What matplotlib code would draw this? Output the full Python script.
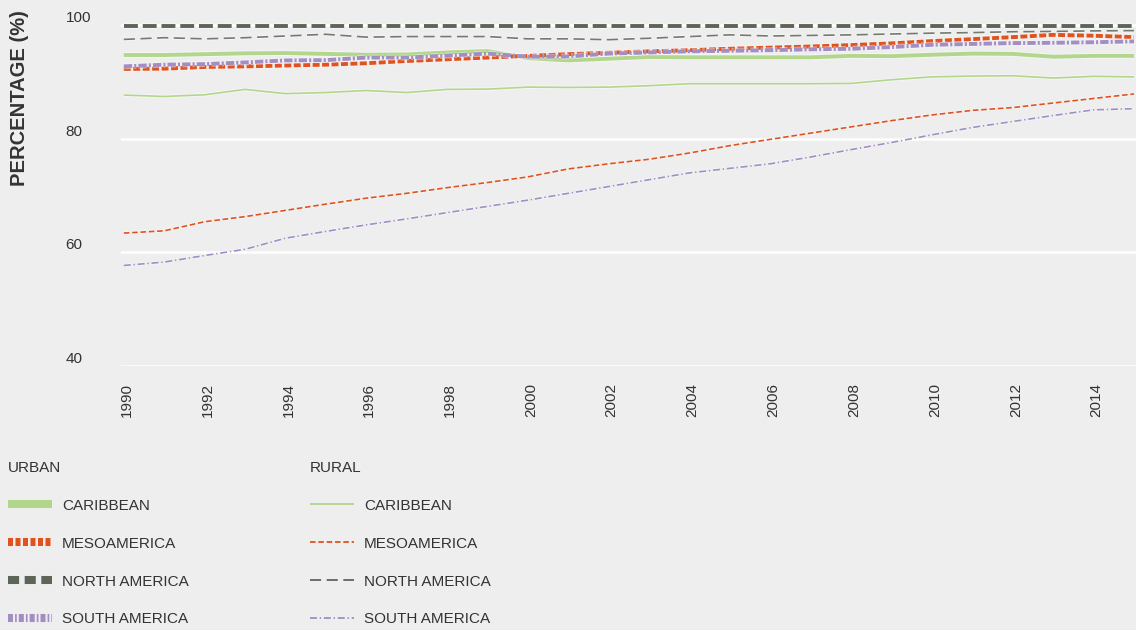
import matplotlib
matplotlib.use("Agg")
import matplotlib.pyplot as plt
import matplotlib.patheffects as pe
import matplotlib.transforms as mtransforms
from matplotlib.lines import Line2D

plt.rcParams['font.family'] = ['Liberation Sans', 'DejaVu Sans']
plt.rcParams['lines.scale_dashes'] = False

# Data (percentage, 1990-2015)
years = list(range(1990, 2016))

urban_caribbean = [94.75, 94.75, 94.9, 95.05, 95.1, 94.95, 94.8, 94.85, 95.2, 95.45,
                   94.2, 93.8, 94.1, 94.4, 94.35, 94.35, 94.35, 94.35, 94.6, 94.55,
                   94.8, 95.0, 94.95, 94.45, 94.6, 94.6]
urban_meso = [92.3, 92.35, 92.65, 92.75, 92.9, 93.05, 93.3, 93.7, 94.0, 94.3,
              94.6, 94.9, 95.15, 95.4, 95.6, 95.85, 96.05, 96.25, 96.5, 96.8,
              97.2, 97.55, 97.9, 98.3, 98.15, 97.9]
urban_north = [99.9, 99.9, 99.9, 99.9, 99.9, 99.9, 99.9, 99.9, 99.9, 99.9,
               99.9, 99.9, 99.9, 99.9, 99.9, 99.9, 99.9, 99.9, 99.9, 99.9,
               99.9, 99.9, 99.9, 99.9, 99.9, 99.9]
urban_south = [92.75, 93.05, 93.15, 93.45, 93.8, 93.85, 94.3, 94.3, 94.65, 95.0,
               94.45, 94.5, 95.0, 95.2, 95.4, 95.5, 95.6, 95.75, 95.85, 96.15,
               96.55, 96.7, 96.85, 96.9, 97.0, 97.15]

rural_caribbean = [87.7, 87.45, 87.75, 88.7, 87.95, 88.15, 88.5, 88.15, 88.7, 88.75,
                   89.1, 89.05, 89.1, 89.35, 89.7, 89.7, 89.7, 89.7, 89.75, 90.4,
                   90.9, 91.05, 91.1, 90.7, 91.0, 90.9]
rural_meso = [63.4, 63.8, 65.4, 66.3, 67.4, 68.5, 69.55, 70.4, 71.4, 72.3,
              73.3, 74.7, 75.6, 76.4, 77.5, 78.8, 79.9, 81.0, 82.1, 83.2,
              84.2, 85.0, 85.5, 86.3, 87.1, 87.9]
rural_north = [97.5, 97.8, 97.6, 97.8, 98.1, 98.4, 97.9, 98.0, 98.0, 98.0,
               97.6, 97.6, 97.45, 97.7, 98.0, 98.3, 98.1, 98.2, 98.3, 98.45,
               98.6, 98.7, 98.85, 98.9, 99.0, 99.05]
rural_south = [57.7, 58.3, 59.45, 60.55, 62.5, 63.7, 64.85, 65.9, 67.0, 68.1,
               69.2, 70.4, 71.6, 72.8, 74.0, 74.8, 75.6, 76.8, 78.1, 79.35,
               80.7, 82.0, 83.05, 84.1, 85.1, 85.3]

regions = ['CARIBBEAN', 'MESOAMERICA', 'NORTH AMERICA', 'SOUTH AMERICA']
colors = ['#b2d78c', '#e0531f', '#5d6558', '#a28dc5']
rural_colors = ['#b2d78c', '#e0531f', '#737a6e', '#a28dc5']

urban_dashes = [None, (5, 1.8), (10, 3.5), (6, 1.5, 1.5, 1.5)]
rural_dashes = [None, (4, 2), (8, 4), (5, 2, 1, 2)]
legend_urban_dashes = [None, (3.6, 1.8), (8, 4), (3.6, 1.5, 1.2, 1.5)]

text_col = '#333333'
bg = '#eeeeee'

fig = plt.figure(figsize=(11.36, 6.3), dpi=100, facecolor=bg)
ax = fig.add_axes([121 / 1136, 1 - 366 / 630, 1 - 121 / 1136, (366 - 11) / 630])
ax.set_facecolor(bg)


def draw(values, color, lw, dashes, zorder):
    line, = ax.plot(years, values, color=color, lw=lw, zorder=zorder,
                    solid_capstyle='butt', dash_capstyle='butt')
    if dashes is not None:
        line.set_dashes(dashes)
    line.set_path_effects([pe.Stroke(linewidth=lw + 1.4, foreground='white', alpha=0.45),
                           pe.Normal()])
    return line


rural = [rural_caribbean, rural_meso, rural_north, rural_south]
urban = [urban_caribbean, urban_meso, urban_north, urban_south]

for i in range(4):
    draw(rural[i], rural_colors[i], 1.2, rural_dashes[i], 3)
for i in [0, 1, 3, 2]:
    draw(urban[i], colors[i], 2.8, urban_dashes[i], 4)

ax.set_xlim(1989.93, 2015.05)
ax.set_ylim(40, 102.5)
ax.set_xticks(list(range(1990, 2015, 2)))
ax.set_xticklabels([str(y) for y in range(1990, 2015, 2)], rotation=90)
ax.set_yticks([40, 60, 80, 100], ['40', '60', '80', '100'], ha='left', va='bottom')
ax.tick_params(axis='both', length=0, labelsize=11, labelcolor=text_col)
ax.tick_params(axis='y', pad=40)
ax.tick_params(axis='x', pad=12)
shift = mtransforms.ScaledTranslation(3 / 100, 0, fig.dpi_scale_trans)
for lab in ax.get_xticklabels():
    lab.set_transform(lab.get_transform() + shift)
ax.grid(axis='y', color='white', lw=1.8, zorder=1)
ax.set_axisbelow(True)
for s in ax.spines.values():
    s.set_visible(False)

fig.text(20 / 1136, 1 - 98 / 630, 'PERCENTAGE (%)', rotation=90, ha='center', va='center',
         fontsize=14.5, fontweight='bold', color=text_col)

# legend
urban_handles = []
rural_handles = []
for i in range(4):
    h = Line2D([], [], color=colors[i], lw=5.8, solid_capstyle='butt', dash_capstyle='butt')
    if legend_urban_dashes[i] is not None:
        h.set_dashes(legend_urban_dashes[i])
    urban_handles.append(h)
    r = Line2D([], [], color=colors[i], lw=1.3, solid_capstyle='butt', dash_capstyle='butt')
    if rural_dashes[i] is not None:
        r.set_dashes(rural_dashes[i])
    rural_handles.append(r)

for handles, title, x0 in [(urban_handles, 'URBAN', 8), (rural_handles, 'RURAL', 310)]:
    leg = fig.legend(handles, regions, title=title, loc='upper left',
                     bbox_to_anchor=(x0 / 1136, 1 - 461 / 630), frameon=False,
                     fontsize=11, title_fontsize=11, borderpad=0, borderaxespad=0,
                     handlelength=2.9, handletextpad=0.65, labelspacing=1.56,
                     alignment='left', labelcolor=text_col)
    leg.get_title().set_color(text_col)

fig.savefig('out.png', dpi=100, facecolor=bg)
